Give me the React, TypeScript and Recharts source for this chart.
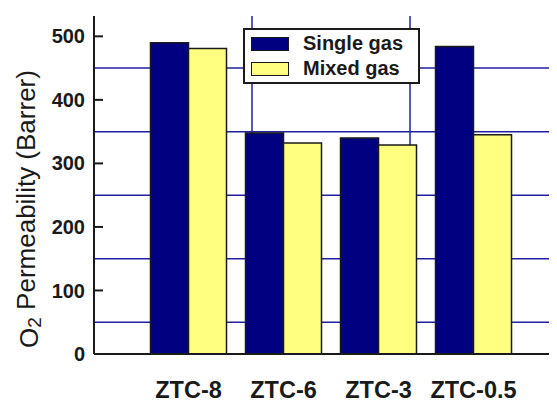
import React from 'react';
import { BarChart, Bar, XAxis, YAxis, CartesianGrid, Legend } from 'recharts';

const categories = ['ZTC-8', 'ZTC-6', 'ZTC-3', 'ZTC-0.5'];
const seriesNames = ['Single gas', 'Mixed gas'];
const singleGas = [490, 348, 340, 484];
const mixedGas = [481, 332, 329, 345];
const yTicks = [0, 100, 200, 300, 400, 500];
const hGridValues = [50, 150, 250, 350, 450];
const vGridValues = [1, 2, 3, 4];

const data = categories.map((c, i) => ({ name: c, single: singleGas[i], mixed: mixedGas[i] }));

const FONT = '"Liberation Sans", Arial, Helvetica, sans-serif';
const INK = '#1a1a1a';
const GRID = '#2020a0';

const TICK_MARGIN = 9;

const YTick = (props: any) => {
  const { x, y, payload } = props;
  const ax = x + TICK_MARGIN;
  return (
    <g>
      <text x={x} y={y} dy="0.355em" textAnchor="end" fontFamily={FONT} fontWeight="bold" fontSize={20} fill={INK}>
        {payload.value}
      </text>
      {payload.value !== 0 && <line x1={ax} x2={ax + 9} y1={y} y2={y} stroke={INK} strokeWidth={2} />}
    </g>
  );
};

const XTick = (props: any) => {
  const { x, y, payload } = props;
  return (
    <text x={x} y={y} dy="0.71em" textAnchor="middle" fontFamily={FONT} fontWeight="bold" fontSize={23.5} fill={INK}>
      {payload.value}
    </text>
  );
};

const EmptyTick = () => <g />;

const YLabel = (props: any) => {
  const vb = props.viewBox || {};
  const cx = vb.x + 20.5;
  const cy = vb.y + vb.height / 2 + 24;
  return (
    <text
      x={cx}
      y={cy}
      transform={`rotate(-90, ${cx}, ${cy})`}
      textAnchor="middle"
      dominantBaseline="central"
      fontFamily={FONT}
      fontSize={26}
      fill={INK}
    >
      O<tspan dy="0.3em" fontSize={19}>2</tspan>
      <tspan dy="-0.3em"> Permeability (Barrer)</tspan>
    </text>
  );
};

const LegendBox = (props: any) => {
  const payload = [...(props.payload || [])].sort(
    (a: any, b: any) => seriesNames.indexOf(a.value) - seriesNames.indexOf(b.value)
  );
  return (
    <div
      style={{
        border: `2px solid ${INK}`,
        background: '#fff',
        width: 173,
        paddingTop: 1,
        paddingBottom: 1,
        boxSizing: 'content-box',
        fontFamily: FONT,
        fontWeight: 'bold',
        fontSize: 20,
        color: INK,
      }}
    >
      {payload.map((p: any) => (
        <div key={p.value} style={{ display: 'flex', alignItems: 'center', height: 25 }}>
          <div
            style={{
              marginLeft: 6,
              width: 36,
              height: 12,
              background: p.color,
              border: `1.5px solid ${INK}`,
            }}
          />
          <div style={{ marginLeft: 14, lineHeight: '25px' }}>{p.value}</div>
        </div>
      ))}
    </div>
  );
};

export default function App() {
  return (
    <div style={{ width: 549, height: 395, overflow: 'hidden' }}>
      <BarChart
        width={600}
        height={395}
        data={data}
        margin={{ top: 8, right: 40, bottom: 0, left: 0 }}
        barCategoryGap="10%"
        barGap={0}
      >
        <CartesianGrid
          xAxisId="frame"
          syncWithTicks
          horizontalValues={hGridValues}
          verticalValues={vGridValues}
          stroke={GRID}
          strokeWidth={1.5}
          strokeOpacity={1}
        />
        <XAxis
          dataKey="name"
          xAxisId={0}
          height={49}
          padding={{ left: 47, right: 47 }}
          axisLine={{ stroke: INK, strokeWidth: 2 }}
          tickLine={false}
          tickSize={0}
          tickMargin={27}
          tick={<XTick />}
          interval={0}
        />
        <XAxis
          xAxisId="frame"
          type="number"
          orientation="top"
          domain={[0.48, 4.5]}
          ticks={vGridValues}
          interval={0}
          allowDataOverflow
          height={0}
          tick={<EmptyTick />}
          tickLine={false}
          axisLine={{ stroke: INK, strokeWidth: 2 }}
        />
        <YAxis
          width={86}
          domain={[0, 532]}
          ticks={yTicks}
          allowDataOverflow
          axisLine={{ stroke: INK, strokeWidth: 2 }}
          tickLine={false}
          tickSize={0}
          tickMargin={TICK_MARGIN}
          tick={<YTick />}
          label={{ content: <YLabel /> }}
        />
        <Legend
          layout="vertical"
          align="center"
          verticalAlign="middle"
          content={<LegendBox />}
          wrapperStyle={{ left: 235, top: 20, width: 177 }}
        />
        <Bar dataKey="single" name={seriesNames[0]} fill="#000080" stroke={INK} strokeWidth={1.5} isAnimationActive={false} />
        <Bar dataKey="mixed" name={seriesNames[1]} fill="#ffff80" stroke={INK} strokeWidth={1.5} isAnimationActive={false} />
      </BarChart>
    </div>
  );
}
